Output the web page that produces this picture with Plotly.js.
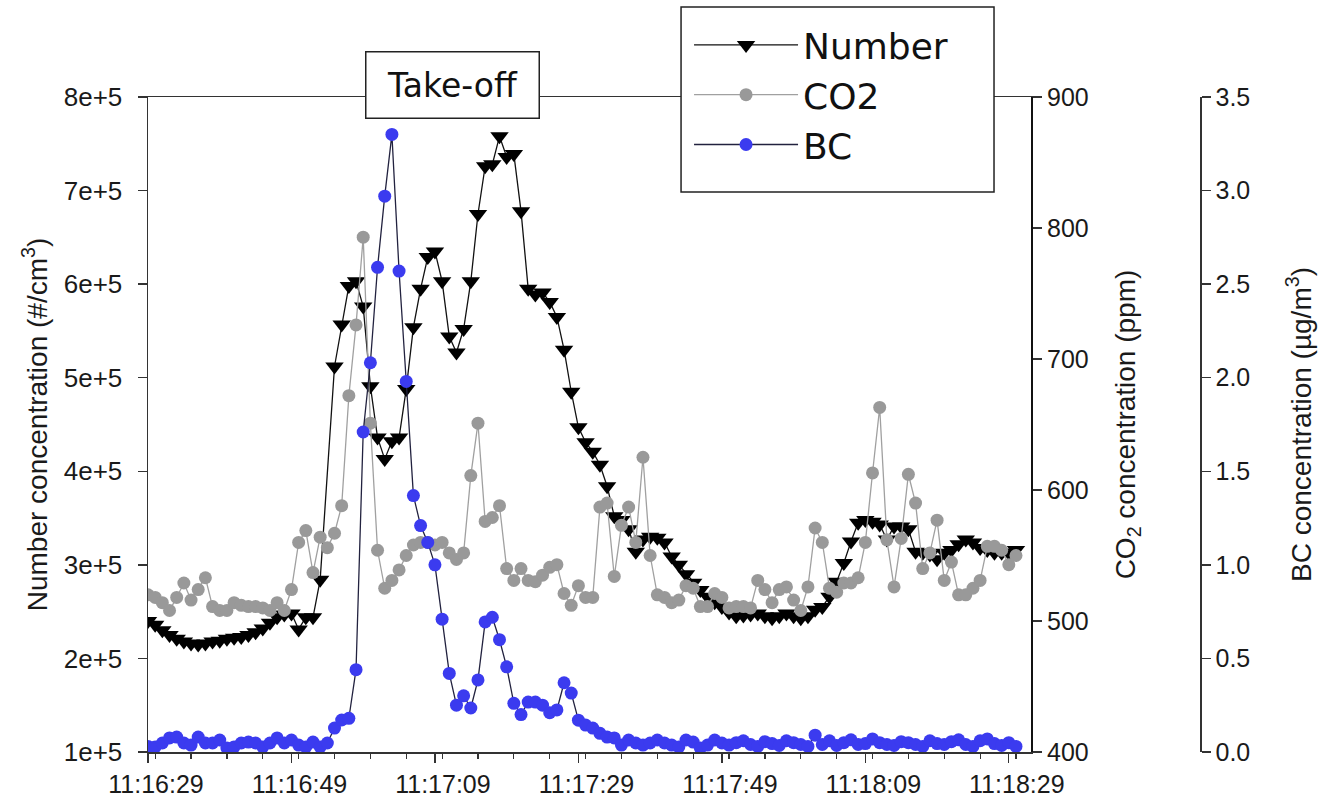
<!DOCTYPE html>
<html>
<head>
<meta charset="utf-8">
<script src="https://cdn.plot.ly/plotly-3.0.1.min.js"></script>
<style>
  html, body { margin: 0; padding: 0; background: #fff; }
  #chart { width: 1325px; height: 806px; }
</style>
</head>
<body>
<div id="chart"></div>
<script>
// Sampling: one reading per second starting at 11:16:29
const startTime = '2013-01-01 11:16:29';
const sampleCount = 122;

// Particle number concentration (#/cm3)
const numberConc = [
  240000, 236000, 230000, 225000, 221000, 218000, 216000, 215000, 216000, 218000,
  219000, 221000, 222000, 223000, 225000, 228000, 232000, 238000, 244000, 247000,
  248000, 231000, 244000, 244000, 284000, null,   512000, 557000, 598000, 603000,
  576000, 491000, 436000, 413000, 432000, 436000, 488000, 554000, 595000, 629000,
  635000, 603000, 544000, 527000, 552000, 603000, 675000, 726000, 728000, 758000,
  736000, 739000, 678000, 595000, 589000, 591000, 581000, 565000, 530000, 485000,
  447000, 431000, 421000, 407000, 384000, 352000, 348000, 338000, 314000, 327000,
  330000, 329000, 324000, 309000, 300000, 290000, 281000, 273000, 266000, 260000,
  255000, 249000, 245000, 246000, 247000, 248000, 245000, 243000, 245000, 248000,
  245000, 243000, 245000, 252000, 255000, 266000, 282000, 302000, 325000, 345000,
  348000, 346000, 343000, 327000, 341000, 341000, 338000, 314000, 313000, 311000,
  306000, 313000, 316000, 322000, 327000, 324000, 318000, 316000, 313000, 313000,
  313000, 316000
];

// CO2 concentration (ppm)
const co2Conc = [
  520, 518, 514, 508, 518, 529, 516, 524, 533, 511,
  508, 508, 514, 512, 511, 511, 510, 508, 514, 508,
  524, 560, 569, 537, 564, 556, 567, 588, 672, 726,
  793, 651, 554, 525, 531, 539, 550, 558, 560, 560,
  558, 560, 552, 547, 552, 611, 651, 576, 579, 588,
  540, 531, 540, 531, 530, 535, 541, 543, 521, 512,
  527, 518, 518, 587, 590, 534, 573, 587, 560, 625,
  550, 520, 518, 514, 516, 527, 525, 511, 511, 521,
  518, 510, 511, 511, 510, 531, 524, 514, 524, 526,
  516, 508, 526, 571, 560, 525, 522, 529, 529, 533,
  560, 613, 663, 562, 526, 563, 612, 590, 540, 552,
  577, 531, 545, 520, 520, 525, 531, 557, 557, 554,
  543, 550
];

// Black carbon concentration (ug/m3)
const bcConc = [
  0.030, 0.027, 0.048, 0.075, 0.080, 0.048, 0.037, 0.080, 0.048, 0.048,
  0.064, 0.021, 0.027, 0.048, 0.053, 0.048, 0.027, 0.048, 0.075, 0.048,
  0.064, 0.037, 0.027, 0.053, 0.027, 0.048, 0.128, 0.171, 0.180, 0.440,
  1.710, 2.080, 2.590, 2.970, 3.300, 2.570, 1.980, 1.370, 1.210, 1.120,
  1.000, 0.710, 0.420, 0.250, 0.300, 0.235, 0.385, 0.695, 0.720, 0.600,
  0.455, 0.260, 0.200, 0.267, 0.267, 0.250, 0.210, 0.225, 0.370, 0.315,
  0.170, 0.144, 0.128, 0.100, 0.080, 0.075, 0.037, 0.064, 0.048, 0.037,
  0.048, 0.064, 0.048, 0.037, 0.027, 0.064, 0.053, 0.021, 0.037, 0.064,
  0.048, 0.037, 0.050, 0.060, 0.040, 0.030, 0.055, 0.045, 0.035, 0.060,
  0.050, 0.040, 0.030, 0.090, 0.040, 0.060, 0.035, 0.050, 0.065, 0.040,
  0.045, 0.070, 0.050, 0.040, 0.035, 0.055, 0.050, 0.040, 0.030, 0.060,
  0.045, 0.040, 0.055, 0.065, 0.040, 0.030, 0.060, 0.070, 0.045, 0.035,
  0.050, 0.030
];

const seriesNames = ['Number', 'CO2', 'BC'];
const axisTitles = [
  'Number concentration (#/cm<sup>3</sup>)',
  'CO<sub>2</sub> concentration (ppm)',
  'BC concentration (\u00b5g/m<sup>3</sup>)'
];
const xTickStart = '2013-01-01 11:16:29';
const xRange = ['2013-01-01 11:16:29', '2013-01-01 11:18:32.1'];
const annotationText = 'Take-off';

// time stamps, one per sample
const t0 = new Date(startTime.replace(' ', 'T') + 'Z').getTime();
const times = [];
for (let i = 0; i < sampleCount; i++) {
  const d = new Date(t0 + i * 1000);
  times.push(d.toISOString().replace('T', ' ').slice(0, 19));
}

const tickFont = { family: 'Liberation Sans, Arial, sans-serif', size: 25, color: '#1a1a1a' };
const leftTickFont = { family: 'Liberation Sans, Arial, sans-serif', size: 26, color: '#1a1a1a' };
const titleFont = { family: 'Liberation Sans, Arial, sans-serif', size: 28, color: '#1a1a1a' };

const traces = [
  {
    x: times, y: numberConc, name: seriesNames[0], type: 'scatter', mode: 'lines+markers',
    yaxis: 'y', connectgaps: true,
    line: { color: '#111111', width: 1.3 },
    marker: { symbol: 'triangle-down', size: 16, color: '#000000' }
  },
  {
    x: times, y: co2Conc, name: seriesNames[1], type: 'scatter', mode: 'lines+markers',
    yaxis: 'y2',
    line: { color: '#a0a0a0', width: 1.3 },
    marker: { symbol: 'circle', size: 13, color: '#999999' }
  },
  {
    x: times, y: bcConc, name: seriesNames[2], type: 'scatter', mode: 'lines+markers',
    yaxis: 'y3',
    line: { color: '#22223f', width: 1.3 },
    marker: { symbol: 'circle', size: 13, color: '#3b3bef' }
  }
];

const layout = {
  width: 1325, height: 806,
  paper_bgcolor: '#ffffff', plot_bgcolor: '#ffffff',
  margin: { l: 148, r: 125, t: 97, b: 54, pad: 0 },
  showlegend: true,
  legend: {
    x: 0.5143, xanchor: 'left', y: 1.1252, yanchor: 'top',
    bgcolor: 'rgba(0,0,0,0)', borderwidth: 0,
    font: { family: 'DejaVu Sans, Verdana, sans-serif', size: 36, color: '#111' },
    itemwidth: 104, tracegroupgap: 0
  },
  shapes: [
    {
      type: 'rect', xref: 'paper', yref: 'paper', layer: 'above',
      x0: 0.5067, x1: 0.8042, y0: 0.855, y1: 1.1374,
      line: { color: '#222222', width: 1.5 }, fillcolor: '#ffffff'
    }
  ],
  xaxis: {
    type: 'date', domain: [0, 0.8394], range: xRange,
    tick0: xTickStart, dtick: 20000, tickformat: '%H:%M:%S',
    ticks: 'outside', ticklen: 9, tickwidth: 1.3, tickcolor: '#333',
    ticklabelshift: 8,
    minor: { dtick: 5000, ticks: 'outside', ticklen: 5, tickwidth: 1.2, tickcolor: '#333', showgrid: false },
    showline: true, linecolor: '#333', linewidth: 1.5, mirror: true,
    showgrid: false, zeroline: false, tickfont: tickFont, automargin: false
  },
  yaxis: {
    range: [100000, 800000], dtick: 100000, tick0: 100000,
    exponentformat: 'e', showexponent: 'all',
    ticks: 'outside', ticklen: 9, tickwidth: 1.3, tickcolor: '#333',
    ticklabelstandoff: 10,
    showline: true, linecolor: '#333', linewidth: 1.5,
    showgrid: false, zeroline: false, tickfont: leftTickFont,
    title: { text: axisTitles[0], font: titleFont, standoff: 8 }, automargin: false
  },
  yaxis2: {
    range: [400, 900], dtick: 100, overlaying: 'y', side: 'right', anchor: 'x',
    ticks: 'outside', ticklen: 9, tickwidth: 1.3, tickcolor: '#333',
    showline: true, linecolor: '#111', linewidth: 2,
    showgrid: false, zeroline: false, tickfont: tickFont,
    title: { text: axisTitles[1], font: titleFont, standoff: 28 }, automargin: false
  },
  yaxis3: {
    range: [0, 3.5], dtick: 0.5, tickformat: '.1f', overlaying: 'y', side: 'right',
    anchor: 'free', position: 1,
    ticks: 'outside', ticklen: 9, tickwidth: 1.3, tickcolor: '#333',
    showline: true, linecolor: '#333', linewidth: 1.5,
    showgrid: false, zeroline: false, tickfont: tickFont,
    title: { text: axisTitles[2], font: titleFont, standoff: 42 }, automargin: false
  },
  annotations: [
    {
      text: annotationText, xref: 'paper', yref: 'paper',
      x: 0.289, y: 1.019, xanchor: 'center', yanchor: 'middle',
      showarrow: false, width: 170, height: 63,
      bgcolor: '#ffffff', bordercolor: '#222', borderwidth: 1.5,
      font: { family: 'DejaVu Sans, Verdana, sans-serif', size: 33, color: '#111' }
    }
  ]
};

Plotly.newPlot('chart', traces, layout, { displayModeBar: false, staticPlot: true });
</script>
</body>
</html>
